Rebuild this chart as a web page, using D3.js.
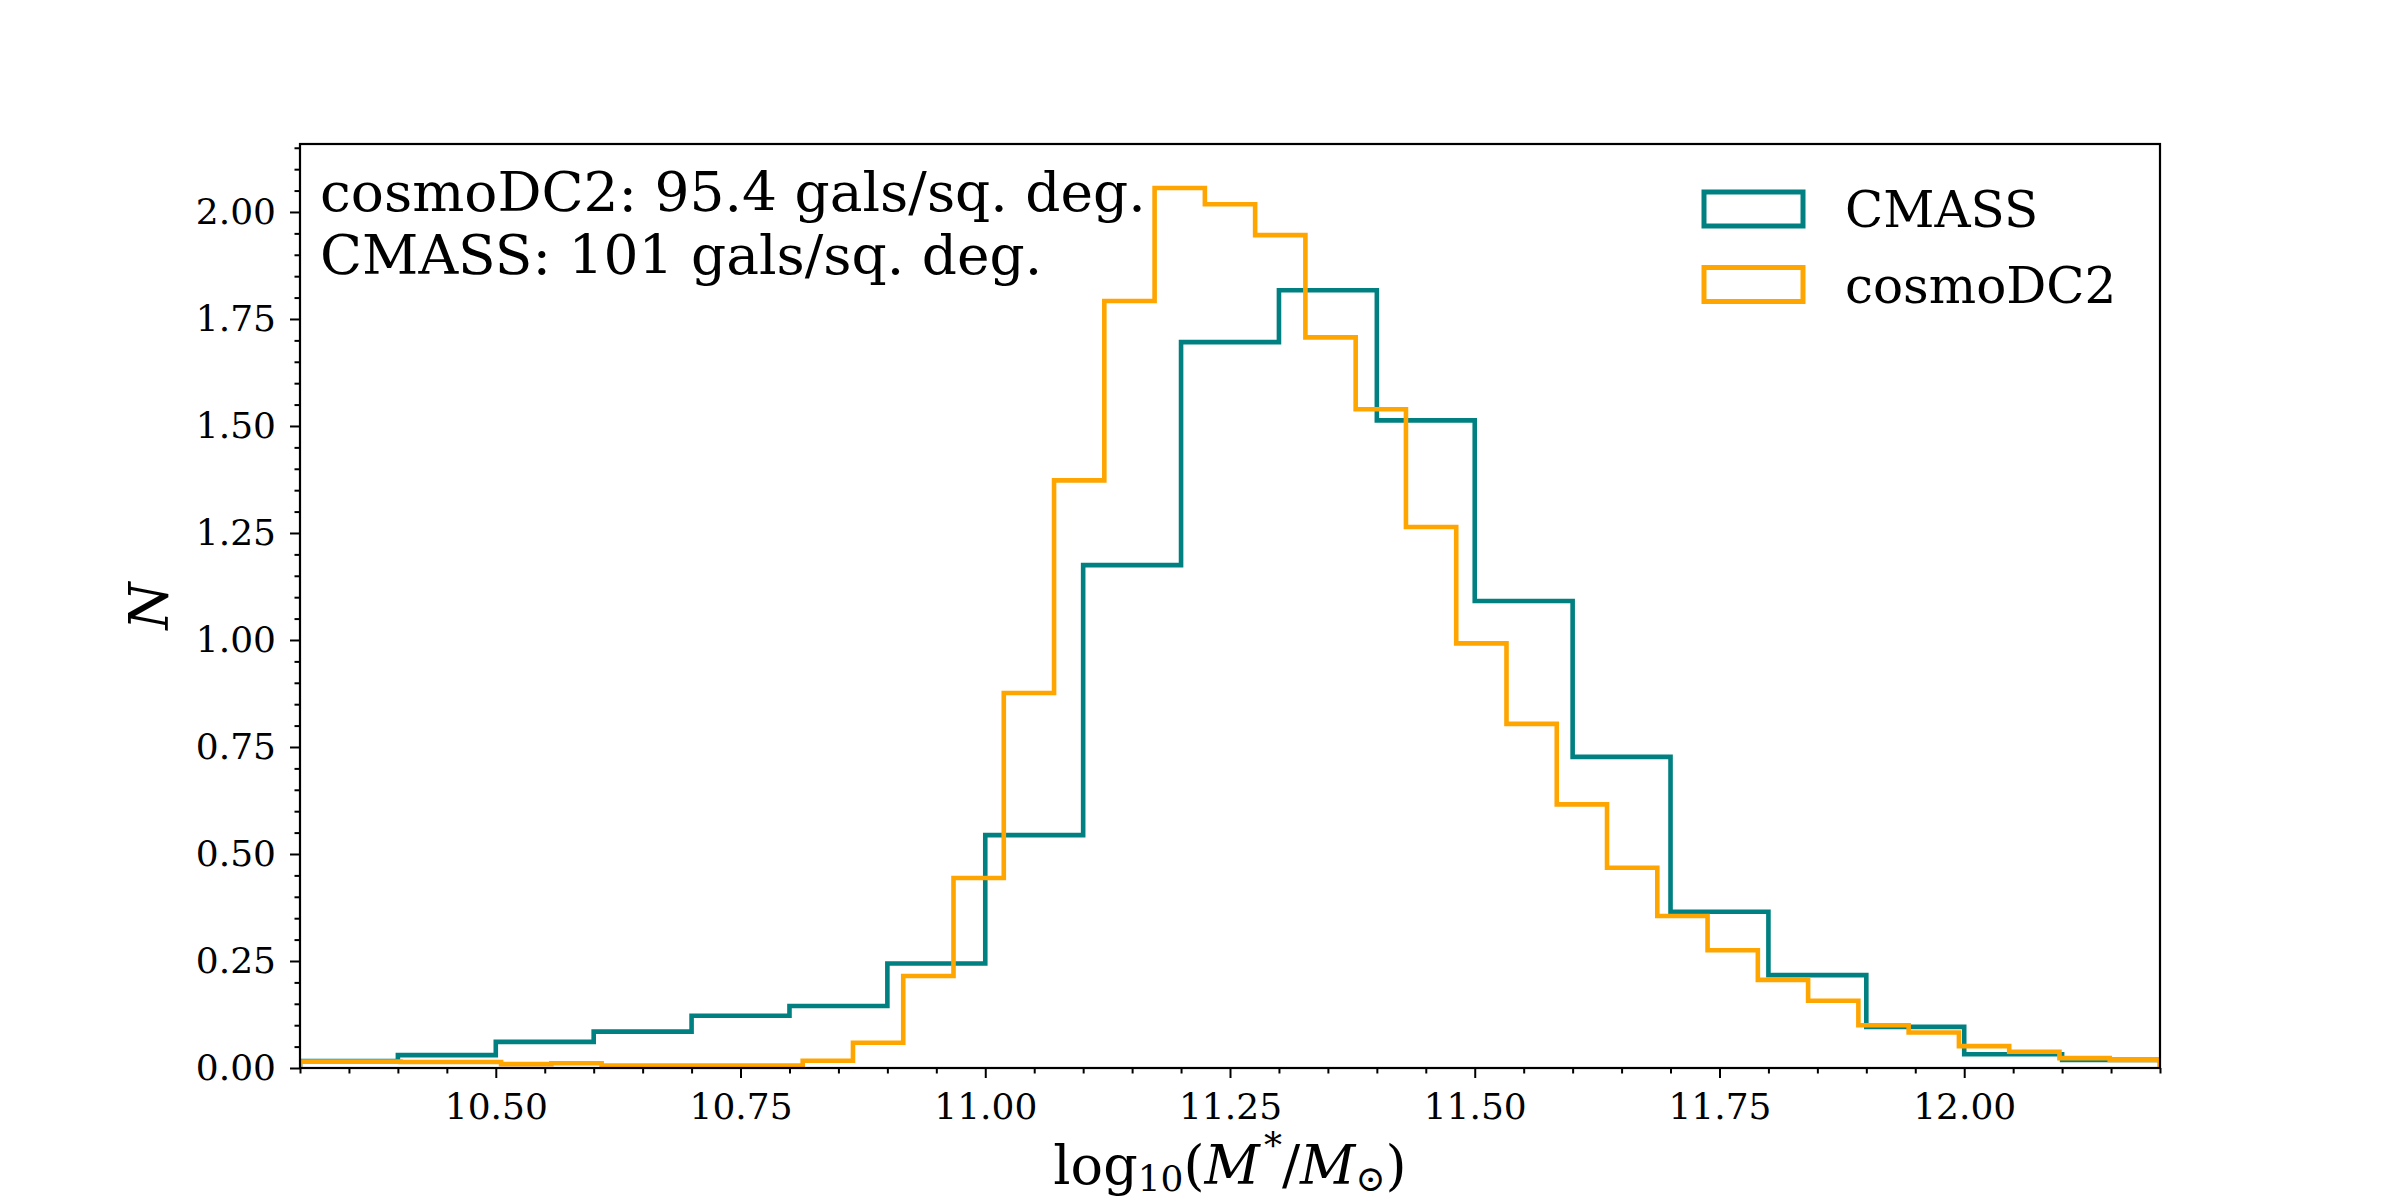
<!DOCTYPE html>
<html>
<head>
<meta charset="utf-8">
<script src="https://cdn.jsdelivr.net/npm/d3@7"></script>
<style>
  body { margin: 0; background: #fff; }
  text { font-family: "DejaVu Serif", serif; fill: #000; }
</style>
</head>
<body>
<svg id="chart" width="2400" height="1200"></svg>
<script>
// histogram bins: same range, different bin counts
var binRange = [10.3, 12.2];
var cmassBins = 19;
var cosmoBins = 37;

// normalised counts per bin
var cmassValues = [0.016, 0.030, 0.061, 0.085, 0.122, 0.145, 0.244, 0.544, 1.175, 1.696,
                   1.817, 1.513, 1.091, 0.727, 0.365, 0.217, 0.096, 0.032, 0.019];
var cosmoValues = [0.015, 0.015, 0.014, 0.014, 0.009, 0.011, 0.006, 0.006, 0.006, 0.006,
                   0.017, 0.059, 0.215, 0.444, 0.876, 1.373, 1.792, 2.056, 2.018, 1.946,
                   1.707, 1.539, 1.264, 0.992, 0.804, 0.616, 0.468, 0.355, 0.275, 0.206,
                   0.157, 0.100, 0.083, 0.051, 0.038, 0.023, 0.019];

var seriesNames = ["CMASS", "cosmoDC2"];
var seriesColors = ["#008080", "#ffa500"];

var xTicks = [10.5, 10.75, 11.0, 11.25, 11.5, 11.75, 12.0];
var yTicks = [0, 0.25, 0.5, 0.75, 1.0, 1.25, 1.5, 1.75, 2.0];

var noteLines = ["cosmoDC2: 95.4 gals/sq. deg.", "CMASS: 101 gals/sq. deg."];

// axes box (window.top is taken, so prefixed names)
var axLeft = 300, axRight = 2160, axTop = 144, axBottom = 1068;

var svg = d3.select("#chart");

var x = d3.scaleLinear().domain(binRange).range([axLeft, axRight]);
var yMax = d3.max(cmassValues.concat(cosmoValues)) * 1.05;
var y = d3.scaleLinear().domain([0, yMax]).range([axBottom, axTop]);

function edges(n) {
  var w = (binRange[1] - binRange[0]) / n;
  return d3.range(n + 1).map(function(i){ return binRange[0] + i * w; });
}

function stepPath(vals) {
  var e = edges(vals.length);
  var p = d3.path();
  p.moveTo(x(e[0]), y(0));
  vals.forEach(function(v, i){
    p.lineTo(x(e[i]), y(v));
    p.lineTo(x(e[i + 1]), y(v));
  });
  p.lineTo(x(e[e.length - 1]), y(0));
  return p.toString();
}

svg.append("clipPath").attr("id", "plotclip")
  .append("rect")
    .attr("x", axLeft).attr("y", axTop)
    .attr("width", axRight - axLeft).attr("height", axBottom - axTop);

var plot = svg.append("g").attr("clip-path", "url(#plotclip)");

[cmassValues, cosmoValues].forEach(function(vals, i){
  plot.append("path")
    .attr("d", stepPath(vals))
    .attr("fill", "none")
    .attr("stroke", seriesColors[i])
    .attr("stroke-width", 4.6)
    .attr("stroke-linejoin", "miter");
});

// minor ticks every 0.05
var xMinor = d3.range(10.3, 12.2 + 1e-9, 0.05).filter(function(v){
  return !xTicks.some(function(t){ return Math.abs(t - v) < 1e-6; });
});
var yMinor = d3.range(0, yMax, 0.05).filter(function(v){
  return !yTicks.some(function(t){ return Math.abs(t - v) < 1e-6; });
});

function styleAxis(g) {
  g.select(".domain").remove();
  g.selectAll(".tick line").attr("stroke", "#000").attr("stroke-width", 2);
  g.selectAll(".tick text")
    .attr("font-family", "DejaVu Serif")
    .attr("font-size", 36)
    .attr("fill", "#000");
}

svg.append("g")
  .attr("transform", "translate(0," + axBottom + ")")
  .call(d3.axisBottom(x).tickValues(xMinor).tickSize(5.5).tickFormat(""))
  .call(styleAxis);
svg.append("g")
  .attr("transform", "translate(0," + axBottom + ")")
  .call(d3.axisBottom(x).tickValues(xTicks).tickSize(10).tickPadding(15).tickFormat(d3.format(".2f")))
  .call(styleAxis);

svg.append("g")
  .attr("transform", "translate(" + axLeft + ",0)")
  .call(d3.axisLeft(y).tickValues(yMinor).tickSize(5.5).tickFormat(""))
  .call(styleAxis);
svg.append("g")
  .attr("transform", "translate(" + axLeft + ",0)")
  .call(d3.axisLeft(y).tickValues(yTicks).tickSize(10).tickPadding(14).tickFormat(d3.format(".2f")))
  .call(styleAxis);

// frame
svg.append("rect")
  .attr("x", axLeft).attr("y", axTop)
  .attr("width", axRight - axLeft).attr("height", axBottom - axTop)
  .attr("fill", "none")
  .attr("stroke", "#000")
  .attr("stroke-width", 2.2);

// axis labels
svg.append("text")
  .attr("transform", "translate(168," + ((axTop + axBottom) / 2) + ") rotate(-90)")
  .attr("text-anchor", "middle")
  .attr("font-size", 54)
  .attr("font-style", "italic")
  .text("N");

var xl = svg.append("text")
  .attr("x", (axLeft + axRight) / 2)
  .attr("y", 1184)
  .attr("text-anchor", "middle")
  .attr("font-size", 54);
xl.append("tspan").text("log");
xl.append("tspan").attr("font-size", 36).attr("dy", 7).text("10");
xl.append("tspan").attr("dy", -7).text("(");
xl.append("tspan").attr("font-style", "italic").text("M");
xl.append("tspan").attr("font-size", 36).attr("dx", 4).attr("dy", -26).text("*");
xl.append("tspan").attr("dy", 26).text("/");
xl.append("tspan").attr("font-style", "italic").text("M");
xl.append("tspan").attr("font-size", 36).attr("dy", 7).text("\u2299");
xl.append("tspan").attr("dy", -7).text(")");

// note in upper left
svg.selectAll(".note").data(noteLines).enter().append("text")
  .attr("class", "note")
  .attr("x", 320)
  .attr("y", function(d, i){ return 211 + i * 63; })
  .attr("font-size", 55)
  .text(function(d){ return d; });

// legend
var leg = svg.append("g").attr("transform", "translate(1704,0)");
seriesNames.forEach(function(name, i){
  var cy = 209 + i * 75.5;
  leg.append("rect")
    .attr("x", 0).attr("y", cy - 17)
    .attr("width", 99).attr("height", 34)
    .attr("fill", "none")
    .attr("stroke", seriesColors[i])
    .attr("stroke-width", 5);
  leg.append("text")
    .attr("x", 141).attr("y", cy + 18)
    .attr("font-size", 50)
    .text(name);
});
</script>
</body>
</html>
